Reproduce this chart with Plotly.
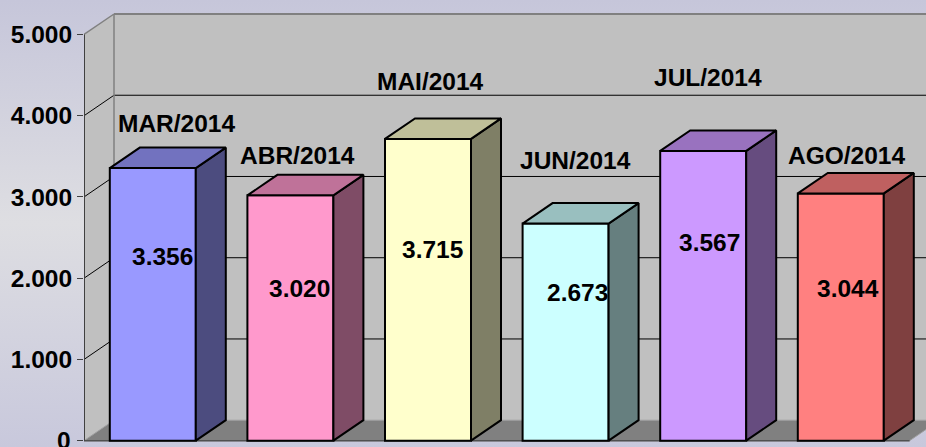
import base64
import plotly.graph_objects as go

# ---------------- data ----------------
months = ["MAR/2014", "ABR/2014", "MAI/2014", "JUN/2014", "JUL/2014", "AGO/2014"]
values = [3356, 3020, 3715, 2673, 3567, 3044]
value_labels = ["3.356", "3.020", "3.715", "2.673", "3.567", "3.044"]
y_tick_vals = [0, 1000, 2000, 3000, 4000, 5000]
y_tick_text = ["0", "1.000", "2.000", "3.000", "4.000", "5.000"]
front_colors = ["#9999FF", "#FF99CC", "#FFFFCC", "#CCFFFF", "#CC99FF", "#FF8080"]

# ---------------- layout constants ----------------
W, H = 926, 447
ML = 84                    # left margin (front value axis position)
PX_PER_CAT = 137.6         # pixels per category slot
Y0_PX = 440.7              # pixel row of value 0
PX_PER_UNIT = 0.08124      # pixels per value unit
BAR_W = 0.625              # bar front width in category units
DX = 30 / PX_PER_CAT       # 3D depth, horizontal (category units)
DY = 20.5 / PX_PER_UNIT    # 3D depth, vertical (value units)
FONT = dict(family="Liberation Sans, Arial, sans-serif", size=24.5, color="black", weight="bold")
TICK_LABEL_RIGHT_PX = 72.7

# label placement offsets in pixels (relative to bar front centre / front top)
cat_label_dx = [23.4, 7.4, 2.8, 9.9, 4.3, 5.4]
cat_label_lift = [44.1, 40.1, 56.9, 63.5, 73.9, 38.1]
val_label_dx = [9.5, 8.9, 4.8, 12.2, 6.1, 7.3]
val_label_drop = [88.9, 92.9, 110.6, 69.3, 91.9, 94.6]


def shade(hex_color, k):
    h = hex_color.lstrip("#")
    r, g, b = (int(h[i:i + 2], 16) for i in (0, 2, 4))
    return "#%02X%02X%02X" % (int(r * k), int(g * k), int(b * k))


n = len(values)
x_lo = -0.5
x_hi = x_lo + (W - ML) / PX_PER_CAT
y_lo = -(H - Y0_PX) / PX_PER_UNIT
y_hi = Y0_PX / PX_PER_UNIT
fl_l, fl_r = -0.5, n - 0.5
vmax = y_tick_vals[-1]

fig = go.Figure()

# ---------------- walls, floor, grid (shapes below traces) ----------------
shapes = []


def path(pts):
    return "M " + " L ".join(f"{x},{y}" for x, y in pts) + " Z"


# side wall
shapes.append(dict(type="path", xref="x", yref="y", layer="below",
                   path=path([(fl_l, 0), (fl_l + DX, DY), (fl_l + DX, vmax + DY), (fl_l, vmax)]),
                   fillcolor="#C0C0C0", line=dict(width=0)))
# back wall
shapes.append(dict(type="path", xref="x", yref="y", layer="below",
                   path=path([(fl_l + DX, DY), (fl_r + DX, DY), (fl_r + DX, vmax + DY), (fl_l + DX, vmax + DY)]),
                   fillcolor="#C0C0C0", line=dict(width=0)))
# gridlines on back and side walls
for v in y_tick_vals[1:-1]:
    shapes.append(dict(type="line", xref="x", yref="y", layer="below",
                       x0=fl_l + DX, x1=fl_r + DX, y0=v + DY, y1=v + DY,
                       line=dict(color="black", width=1)))
    shapes.append(dict(type="line", xref="x", yref="y", layer="below",
                       x0=fl_l, x1=fl_l + DX, y0=v, y1=v + DY,
                       line=dict(color="black", width=1)))
# wall edges
shapes.append(dict(type="line", xref="x", yref="y", layer="below",
                   x0=fl_l + DX, x1=fl_r + DX, y0=vmax + DY, y1=vmax + DY,
                   line=dict(color="#808080", width=2)))
shapes.append(dict(type="line", xref="x", yref="y", layer="below",
                   x0=fl_l, x1=fl_l + DX, y0=vmax, y1=vmax + DY,
                   line=dict(color="#808080", width=1.5)))
shapes.append(dict(type="line", xref="x", yref="y", layer="below",
                   x0=fl_l + DX, x1=fl_l + DX, y0=DY, y1=vmax + DY,
                   line=dict(color="#808080", width=1.5)))
# floor
shapes.append(dict(type="path", xref="x", yref="y", layer="below",
                   path=path([(fl_l, 0), (fl_r, 0), (fl_r + DX, DY), (fl_l + DX, DY)]),
                   fillcolor="#808080", line=dict(color="#A0A0A0", width=1)))
shapes.append(dict(type="line", xref="x", yref="y", layer="below",
                   x0=fl_l, x1=fl_r, y0=0, y1=0,
                   line=dict(color="#505050", width=1.5)))
# front value axis line
shapes.append(dict(type="line", xref="x", yref="y", layer="below",
                   x0=fl_l, x1=fl_l, y0=0, y1=vmax,
                   line=dict(color="#404040", width=2)))

# ---------------- bars ----------------
xs = list(range(n))
fig.add_trace(go.Bar(x=xs, y=values, width=BAR_W, base=0,
                     marker=dict(color=front_colors, line=dict(color="black", width=2)),
                     hoverinfo="skip"))

for i, v in enumerate(values):
    xl, xr = i - BAR_W / 2, i + BAR_W / 2
    # side face
    fig.add_trace(go.Scatter(
        x=[xr, xr + DX, xr + DX, xr, xr], y=[0, DY, v + DY, v, 0],
        mode="lines", fill="toself", fillcolor=shade(front_colors[i], 0.5),
        line=dict(color="black", width=2), hoverinfo="skip"))
    # top face
    fig.add_trace(go.Scatter(
        x=[xl, xr, xr + DX, xl + DX, xl], y=[v, v, v + DY, v + DY, v],
        mode="lines", fill="toself", fillcolor=shade(front_colors[i], 0.75),
        line=dict(color="black", width=2), hoverinfo="skip"))

# ---------------- labels ----------------
annotations = []
for i, v in enumerate(values):
    annotations.append(dict(
        x=i + cat_label_dx[i] / PX_PER_CAT, y=v + cat_label_lift[i] / PX_PER_UNIT,
        xref="x", yref="y", text=months[i], showarrow=False,
        xanchor="center", yanchor="middle", font=FONT))
    annotations.append(dict(
        x=i + val_label_dx[i] / PX_PER_CAT, y=v - val_label_drop[i] / PX_PER_UNIT,
        xref="x", yref="y", text=value_labels[i], showarrow=False,
        xanchor="center", yanchor="middle", font=FONT))

# the bottom tick label sits partly below the page edge; the axis drops it,
# so it is drawn as an annotation at the axis value
axis_tick_text = ["" if t == y_tick_vals[0] else s for t, s in zip(y_tick_vals, y_tick_text)]
annotations.append(dict(
    x=(TICK_LABEL_RIGHT_PX - ML) / (W - ML), xref="paper",
    y=y_tick_vals[0], yref="y", text=y_tick_text[0], showarrow=False,
    xanchor="right", yanchor="middle", font=FONT))

# ---------------- background gradient ----------------
svg = (f'<svg xmlns="http://www.w3.org/2000/svg" width="{W}" height="{H}" viewBox="0 0 {W} {H}" '
       f'preserveAspectRatio="none"><defs><linearGradient id="g" x1="0" y1="0" x2="0" y2="1">'
       f'<stop offset="0" stop-color="#C6C6DA"/><stop offset="0.5" stop-color="#DEDEE2"/>'
       f'<stop offset="1" stop-color="#C8C8DC"/></linearGradient></defs>'
       f'<rect x="0" y="0" width="{W}" height="{H}" fill="url(#g)"/></svg>')
src = "data:image/svg+xml;base64," + base64.b64encode(svg.encode()).decode()

fig.update_layout(
    width=W, height=H,
    margin=dict(l=ML, r=0, t=0, b=0),
    paper_bgcolor="#D2D2DE",
    plot_bgcolor="rgba(0,0,0,0)",
    showlegend=False,
    hovermode=False,
    shapes=shapes,
    annotations=annotations,
    images=[dict(source=src, xref="paper", yref="paper",
                 x=-ML / (W - ML), y=1, sizex=W / (W - ML), sizey=1,
                 xanchor="left", yanchor="top", sizing="stretch", layer="below")],
    xaxis=dict(range=[x_lo, x_hi], showgrid=False, zeroline=False,
               showticklabels=False, ticks="", showline=False, fixedrange=True),
    yaxis=dict(range=[y_lo, y_hi], tickvals=y_tick_vals, ticktext=axis_tick_text,
               ticks="outside", ticklen=6, tickwidth=1, tickcolor="#404040",
               tickfont=FONT, showgrid=False, zeroline=False, showline=False,
               fixedrange=True),
)

fig.write_html("out.html")
